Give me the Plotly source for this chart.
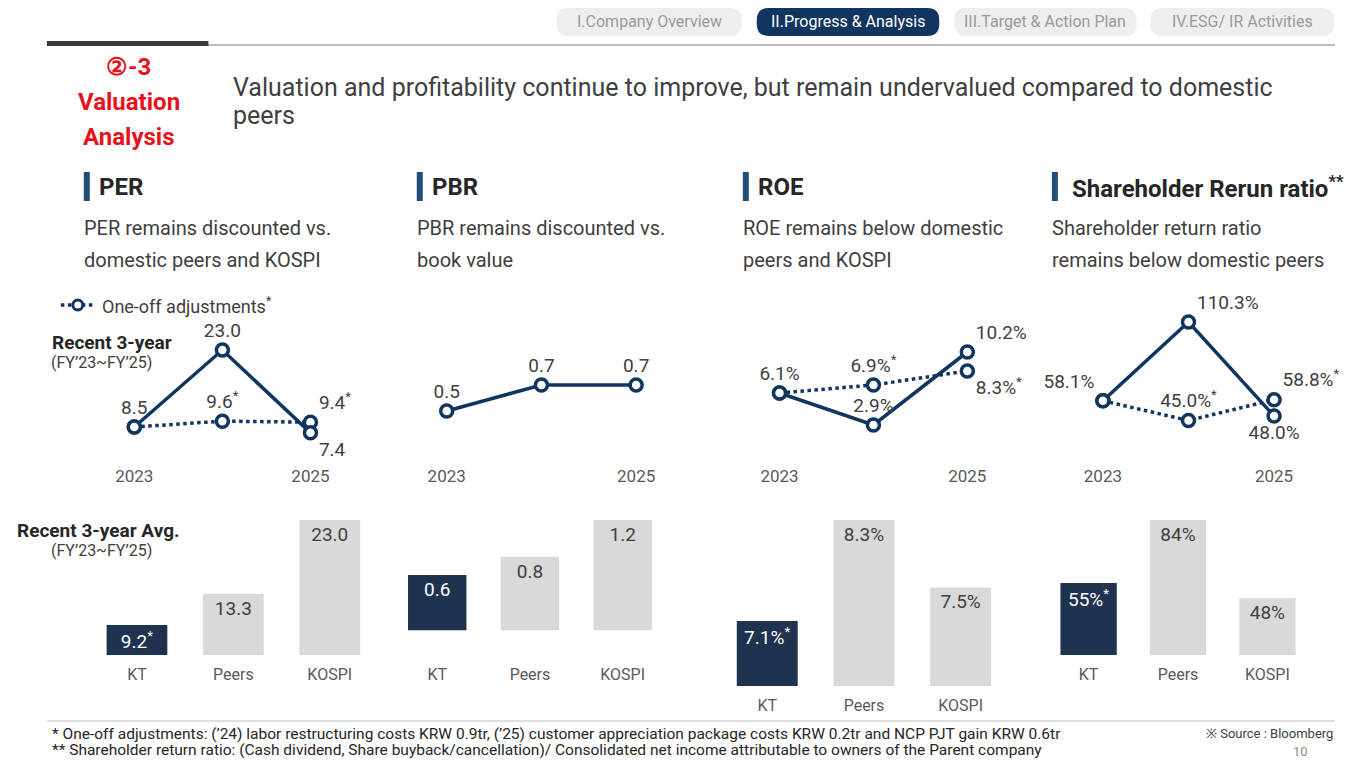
import plotly.graph_objects as go

W, H = 1349, 752
OFF = 8
years = [2023, 2024, 2025]
cats = ["KT", "Peers", "KOSPI"]

per_line = [8.5, 23.0, 7.4]
per_adj = [8.5, 9.6, 9.4]
pbr_line = [0.5, 0.7, 0.7]
roe_line = [6.1, 2.9, 10.2]
roe_adj = [6.1, 6.9, 8.3]
shr_line = [58.1, 110.3, 48.0]
shr_adj = [58.1, 45.0, 58.8]

per_bar = [9.2, 13.3, 23.0]
pbr_bar = [0.6, 0.8, 1.2]
roe_bar = [7.1, 8.3, 7.5]
shr_bar = [55, 84, 48]

per_bar_lbl = ["9.2<sup>*</sup>", "13.3", "23.0"]
pbr_bar_lbl = ["0.6", "0.8", "1.2"]
roe_bar_lbl = ["7.1%<sup>*</sup>", "8.3%", "7.5%"]
shr_bar_lbl = ["55%<sup>*</sup>", "84%", "48%"]

NAVY = "#10355f"
DARK = "#1f3350"
GRAY = "#d9d9d9"
TXT = "#404040"
FONT = "Roboto"

def px(x): return (x - OFF) / W
def py(y): return 1 - (y - OFF) / H

def rng(v1, p1, v2, p2, top, bot):
    s = (p2 - p1) / (v1 - v2)
    return [v1 - (bot - p1) / s, v1 + (p1 - top) / s]

fig = go.Figure()
layout = {}
idx = [0]

def add_axes(xd, yd, xr, yr, xkw=None):
    idx[0] += 1
    i = idx[0]
    sfx = "" if i == 1 else str(i)
    xa = dict(domain=[px(xd[0]), px(xd[1])], showgrid=False, zeroline=False, showline=False,
              tickfont=dict(size=16, color="#595959", family=FONT), anchor="y" + sfx)
    ya = dict(domain=[py(yd[1]), py(yd[0])], range=yr, visible=False, anchor="x" + sfx)
    if xr is not None:
        xa["range"] = xr
    if xkw: xa.update(xkw)
    layout["xaxis" + sfx] = xa
    layout["yaxis" + sfx] = ya
    return "x" + sfx, "y" + sfx

def line_chart(xd, yr, solid, slbl, spos, adj=None, albl=None, apos=None):
    xa, ya = add_axes(xd, (300, 450), [2022.8, 2025.2], yr,
                      xkw=dict(tickvals=[2023, 2025], ticktext=["2023", "2025"], ticks="",
                               ticklabelstandoff=14, tickfont=dict(size=17, color="#595959", family=FONT)))
    mk = dict(symbol="circle", size=12, color="white", line=dict(color=NAVY, width=3.5))
    if adj is not None:
        fig.add_trace(go.Scatter(x=years, y=adj, mode="lines+markers+text", text=albl, textposition=apos,
                                 line=dict(color=NAVY, width=3.5, dash="dot"), marker=mk,
                                 textfont=dict(size=19, color=TXT, family=FONT), cliponaxis=False,
                                 showlegend=False, xaxis=xa, yaxis=ya))
    fig.add_trace(go.Scatter(x=years, y=solid, mode="lines+markers+text", text=slbl, textposition=spos,
                             line=dict(color=NAVY, width=3.5), marker=mk,
                             textfont=dict(size=19, color=TXT, family=FONT), cliponaxis=False,
                             showlegend=False, xaxis=xa, yaxis=ya))

line_chart((115, 327), rng(23.0, 350, 8.5, 427, 300, 450), per_line, ["8.5", "23.0", "7.4"],
           ["top center", "top center", "bottom right"], per_adj, ["", "9.6<sup>*</sup>", "9.4<sup>*</sup>"],
           ["top center", "top center", "top right"])
line_chart((427, 655), rng(0.7, 385, 0.5, 411, 300, 450), pbr_line, ["0.5", "0.7", "0.7"],
           ["top center"] * 3)
line_chart((761, 987), rng(10.2, 352, 2.9, 425, 300, 450), roe_line, ["6.1%", "2.9%", "10.2%"],
           ["top center", "top center", "top right"], roe_adj, ["", "6.9%<sup>*</sup>", "8.3%<sup>*</sup>"],
           ["top center", "top center", "bottom right"])
line_chart((1087, 1293), rng(110.3, 322, 48.0, 416, 300, 450), shr_line, ["58.1%", "110.3%", "48.0%"],
           ["top left", "top right", "bottom center"], shr_adj, ["", "45.0%<sup>*</sup>", "58.8%<sup>*</sup>"],
           ["top center", "top center", "top right"])

def bar_chart(xd, base, vals, lbls, r):
    top = 500
    yr = rng(max(vals), 520, r, base, top, base)
    xa, ya = add_axes(xd, (top, base), None, yr,
                      xkw=dict(ticks="", ticklabelstandoff=8, type="category"))
    fig.add_trace(go.Bar(x=cats, y=vals, text=lbls, textposition="inside",
                         insidetextanchor="end", marker=dict(color=[DARK, GRAY, GRAY], line_width=0),
                         textfont=dict(size=19, color=["white", TXT, TXT], family=FONT),
                         showlegend=False, xaxis=xa, yaxis=ya))

bar_chart((87, 377), 655, per_bar, per_bar_lbl, 5.26)
bar_chart((390, 669), 655, pbr_bar, pbr_bar_lbl, -0.27)
bar_chart((719, 1010), 686, roe_bar, roe_bar_lbl, 6.33)
bar_chart((1045, 1314), 655, shr_bar, shr_bar_lbl, 21.9)

shapes, ann = [], []
def text(x, y, s, size, color=TXT, anchor="left", bold=False, fam=FONT):
    ann.append(dict(x=px(x), y=py(y), xref="paper", yref="paper", text=("<b>%s</b>" % s) if bold else s,
                    showarrow=False, xanchor=anchor, yanchor="middle",
                    font=dict(size=size, color=color, family=fam)))

def rrect(x0, y0, x1, y1, fill, r=12):
    X0, X1 = px(x0), px(x1)
    Y0, Y1 = py(y1), py(y0)
    rx, ry = r / W, r / H
    p = (f"M {X0+rx},{Y0} L {X1-rx},{Y0} Q {X1},{Y0} {X1},{Y0+ry} L {X1},{Y1-ry} Q {X1},{Y1} {X1-rx},{Y1} "
         f"L {X0+rx},{Y1} Q {X0},{Y1} {X0},{Y1-ry} L {X0},{Y0+ry} Q {X0},{Y0} {X0+rx},{Y0} Z")
    shapes.append(dict(type="path", path=p, xref="paper", yref="paper", fillcolor=fill, line_width=0, layer="below"))

tabs = [("I.Company Overview", 556, 742, False), ("II.Progress & Analysis", 757, 940, True),
        ("III.Target & Action Plan", 955, 1138, False), ("IV.ESG/ IR Activities", 1152, 1336, False)]
for s, a, b, act in tabs:
    rrect(a, 8, b, 36, NAVY if act else "#eeeeee")
    text((a + b) / 2, 22, s, 16, "white" if act else "#9a9a9a", "center")

shapes.append(dict(type="line", xref="paper", yref="paper", x0=px(45), x1=px(1337), y0=py(45), y1=py(45),
                   line=dict(color="#a6a6a6", width=1.5)))
shapes.append(dict(type="rect", xref="paper", yref="paper", x0=px(45), x1=px(207), y0=py(46), y1=py(41),
                   fillcolor="#3a3a3a", line_width=0))
text(127, 67, "②-3", 24, "#e8121b", "center", True)
text(127, 102, "Valuation", 24, "#e8121b", "center", True)
text(127, 137, "Analysis", 24, "#e8121b", "center", True)
text(230, 87, "Valuation and profitability continue to improve, but remain undervalued compared to domestic", 25)
text(230, 116, "peers", 25)

heads = [(82, "PER", ["PER remains discounted vs.", "domestic peers and KOSPI"]),
         (416, "PBR", ["PBR remains discounted vs.", "book value"]),
         (743, "ROE", ["ROE remains below domestic", "peers and KOSPI"]),
         (1053, "Shareholder Rerun ratio<sup>**</sup>", ["Shareholder return ratio", "remains below domestic peers"])]
for x, h, sub in heads:
    shapes.append(dict(type="rect", xref="paper", yref="paper", x0=px(x), x1=px(x + 6), y0=py(201), y1=py(172),
                       fillcolor="#1f4e79", line_width=0))
    text(x + 13 if x != 1053 else x + 18, 187, h, 24, "#262626", bold=True)
    text(x - 2 if x != 82 else 80, 228, sub[0], 20)
    text(x - 2 if x != 82 else 80, 260, sub[1], 20)

shapes.append(dict(type="line", xref="paper", yref="paper", x0=px(59), x1=px(94), y0=py(305), y1=py(305),
                   line=dict(color=NAVY, width=3.5, dash="dot")))
shapes.append(dict(type="circle", xref="paper", yref="paper", x0=px(71), x1=px(81), y0=py(310), y1=py(300),
                   fillcolor="white", line=dict(color=NAVY, width=3)))
text(98, 305, "One-off adjustments<sup>*</sup>", 18)
text(48, 342, "Recent 3-year", 19, "#262626", bold=True)
text(47, 362, "(FY’23~FY’25)", 16)
text(13, 530, "Recent 3-year Avg.", 19, "#262626", bold=True)
text(47, 550, "(FY’23~FY’25)", 16)

shapes.append(dict(type="line", xref="paper", yref="paper", x0=px(45), x1=px(1337), y0=py(721), y1=py(721),
                   line=dict(color="#bfbfbf", width=1)))
text(48, 734, "* One-off adjustments: (’24) labor restructuring costs KRW 0.9tr, (’25) customer appreciation package costs KRW 0.2tr and NCP PJT gain KRW 0.6tr", 15.5, "#262626")
text(48, 750, "** Shareholder return ratio: (Cash dividend, Share buyback/cancellation)/ Consolidated net income attributable to owners of the Parent company", 15.5, "#262626")
text(1337, 733, "※ Source : Bloomberg", 13, "#404040", "right")
text(1312, 751, "10", 13, "#8c8c8c", "right")

fig.update_layout(width=W, height=H, margin=dict(l=0, r=0, t=0, b=0), paper_bgcolor="white",
                  plot_bgcolor="white", bargap=0.37, shapes=shapes, annotations=ann, **layout)
fig.write_html("out.html")
